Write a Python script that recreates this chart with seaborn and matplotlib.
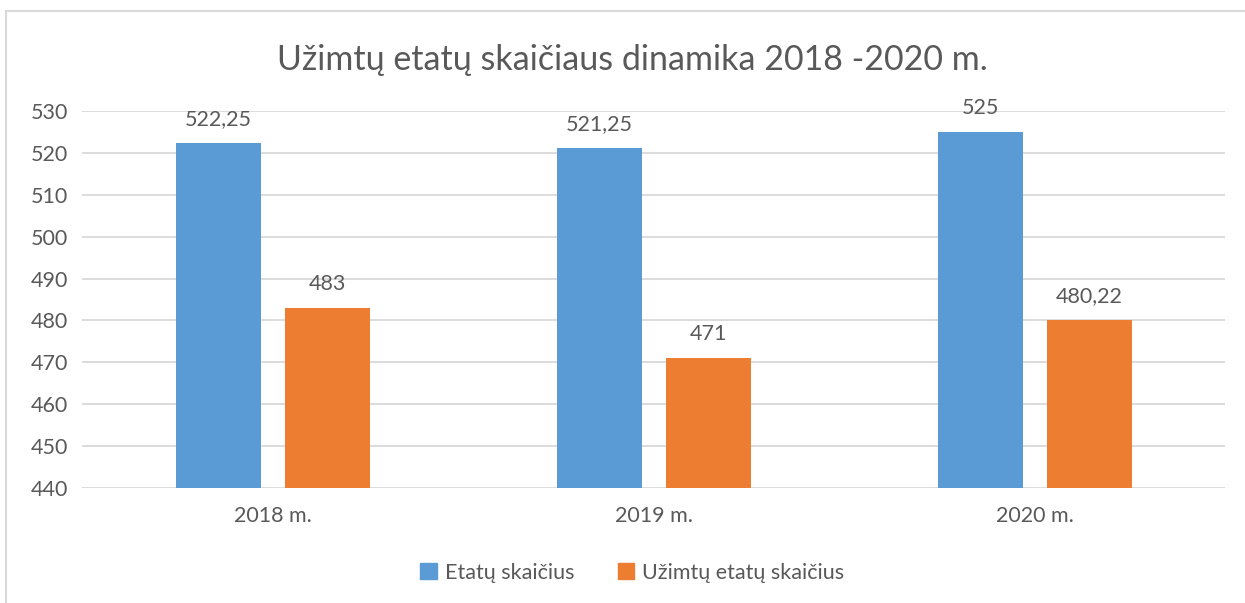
import matplotlib
matplotlib.use("Agg")
import matplotlib.pyplot as plt
import seaborn as sns
import pandas as pd
from matplotlib.patches import Rectangle
from matplotlib.lines import Line2D

years = ["2018 m.", "2019 m.", "2020 m."]
series_names = ["Etatų skaičius", "Užimtų etatų skaičius"]
etatu = [522.25, 521.25, 525]
uzimtu = [483, 471, 480.22]
label_etatu = ["522,25", "521,25", "525"]
label_uzimtu = ["483", "471", "480,22"]
colors = ["#5B9BD5", "#ED7D31"]
title = "Užimtų etatų skaičiaus dinamika 2018 -2020 m."

df = pd.DataFrame({
    "year": years * 2,
    "series": [series_names[0]] * 3 + [series_names[1]] * 3,
    "value": etatu + uzimtu,
})

sns.set_theme(style="white")
plt.rcParams["font.family"] = ["Lato", "DejaVu Sans"]
text_c = "#595959"

fig = plt.figure(figsize=(12.45, 6.03), dpi=100)
ax = fig.add_axes([0.0659, 0.1907, 0.9181, 0.6253])

sns.barplot(data=df, x="year", y="value", hue="series", order=years,
            hue_order=series_names, palette=colors, width=0.572, gap=0.22,
            ax=ax, legend=False, saturation=1, linewidth=0)

ax.set_ylim(440, 530)
ax.set_xlim(-0.5, 2.5)
ax.set_yticks(range(440, 531, 10))
ax.yaxis.grid(True, color="#D9D9D9", linewidth=1.3)
ax.set_axisbelow(True)
for s in ax.spines.values():
    s.set_visible(False)
ax.set_xlabel("")
ax.set_ylabel("")
ax.tick_params(axis="both", length=0, labelsize=15.5, colors=text_c)
ax.tick_params(axis="x", pad=13)
ax.tick_params(axis="y", pad=10)

labels_all = [label_etatu, label_uzimtu]
for cont, labs in zip(ax.containers, labels_all):
    ax.bar_label(cont, labels=labs, padding=10, fontsize=15.5, color=text_c)

fig.text(0.508, 0.9, title, ha="center", va="center", fontsize=24.5, color=text_c)

handles = [Rectangle((0, 0), 1, 1, color=c) for c in colors]
fig.legend(handles, series_names, loc="center", bbox_to_anchor=(0.508, 0.05),
           ncol=2, frameon=False, fontsize=15.5, labelcolor=text_c,
           handlelength=0.75, handleheight=0.75, columnspacing=2.0, handletextpad=0.4)

# outer chart frame (top and left visible)
fig.add_artist(Line2D([6/1245, 1], [1-11/603, 1-11/603], color="#D9D9D9", lw=1.5, transform=fig.transFigure))
fig.add_artist(Line2D([6/1245, 6/1245], [0, 1-11/603], color="#D9D9D9", lw=1.5, transform=fig.transFigure))

fig.savefig("out.png", dpi=100, facecolor="white")
